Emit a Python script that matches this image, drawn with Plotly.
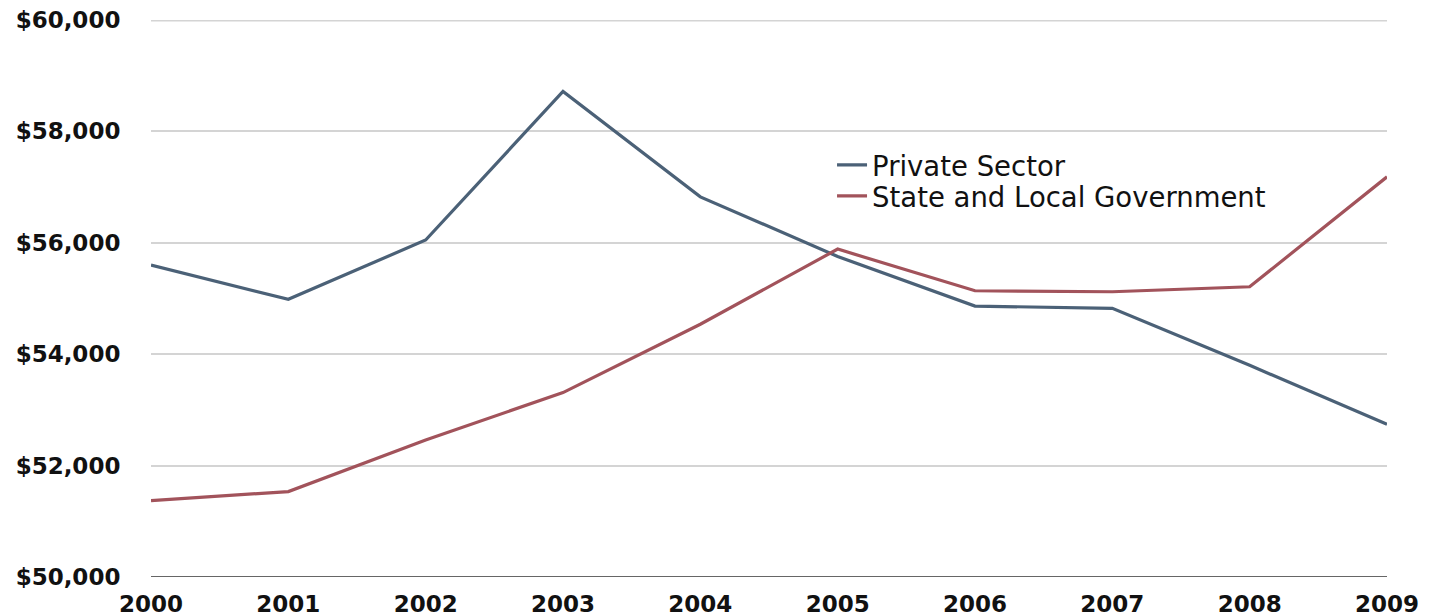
import plotly.graph_objects as go

years = [2000, 2001, 2002, 2003, 2004, 2005, 2006, 2007, 2008, 2009]
private_sector = [55600, 54985, 56050, 58717, 56825, 55755, 54864, 54823, 53800, 52744]
state_local = [51372, 51534, 52461, 53311, 54538, 55887, 55139, 55121, 55211, 57184]
y_ticks = [50000, 52000, 54000, 56000, 58000, 60000]
y_tick_labels = ["$50,000", "$52,000", "$54,000", "$56,000", "$58,000", "$60,000"]
x_tick_labels = ["2000", "2001", "2002", "2003", "2004", "2005", "2006", "2007", "2008", "2009"]

BLUE = "#4b6177"
RED = "#a2535b"
GRID = "#d4d4d4"
TICK_FONT = dict(size=23, family="DejaVu Sans", color="#111111", weight="bold")
LEG_FONT = dict(size=27.5, family="DejaVu Sans", color="#111111")

fig = go.Figure()
fig.add_trace(go.Scatter(x=years, y=private_sector, mode="lines", name="Private Sector",
                         line=dict(color=BLUE, width=3.2), legend="legend"))
fig.add_trace(go.Scatter(x=years, y=state_local, mode="lines", name="State and Local Government",
                         line=dict(color=RED, width=3.2), legend="legend2"))

fig.update_layout(
    width=1441, height=616,
    margin=dict(l=143, r=62, t=12, b=47),
    paper_bgcolor="white", plot_bgcolor="white",
    font=dict(family="DejaVu Sans", color="#111111"),
    showlegend=True,
    legend=dict(x=0.551, y=0.7397, xanchor="left", yanchor="middle",
                bgcolor="rgba(0,0,0,0)", font=LEG_FONT),
    legend2=dict(x=0.551, y=0.684, xanchor="left", yanchor="middle",
                 bgcolor="rgba(0,0,0,0)", font=LEG_FONT),
    xaxis=dict(range=[2000, 2009], tickvals=years, ticktext=x_tick_labels,
               showgrid=False, zeroline=False, showline=False, automargin=False,
               ticks="outside", ticklen=6, tickcolor="rgba(0,0,0,0)",
               ticklabeloverflow="allow", tickfont=TICK_FONT),
    yaxis=dict(range=[50000, 60000], tickvals=y_ticks, ticktext=y_tick_labels,
               showgrid=True, gridcolor=GRID, gridwidth=1.5, zeroline=False,
               showline=False, automargin=False, ticks="outside", ticklen=25,
               tickcolor="rgba(0,0,0,0)", ticklabeloverflow="allow", tickfont=TICK_FONT),
)
fig.add_shape(type="line", xref="paper", yref="y", x0=0, x1=1, y0=60000, y1=60000,
              line=dict(color=GRID, width=3), layer="below")
fig.add_shape(type="line", xref="paper", yref="y", x0=0, x1=1, y0=50000, y1=50000,
              line=dict(color="#333333", width=1.5), layer="above")

fig.write_html("out.html")
